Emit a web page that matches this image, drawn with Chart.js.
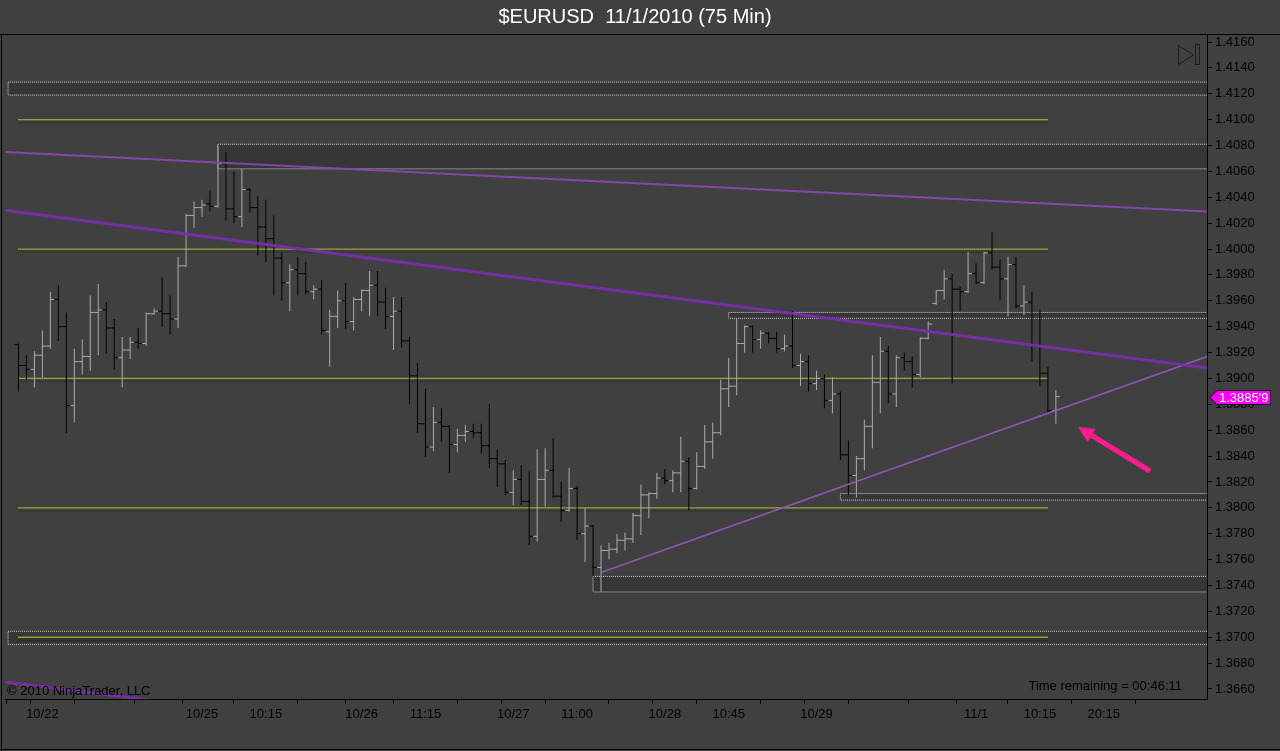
<!DOCTYPE html>
<html>
<head>
<meta charset="utf-8">
<script src="https://cdn.jsdelivr.net/npm/chart.js@4.4.0/dist/chart.umd.min.js"></script>
<style>
  html, body { margin: 0; padding: 0; background: #404040; }
  #wrap { width: 1280px; height: 751px; }
</style>
</head>
<body>
<div id="wrap"><canvas id="chart" width="1280" height="751"></canvas></div>
<script>
// 75 min bars
const openP = [
  1.3926, 1.3910, 1.3907, 1.3918, 1.3925, 1.3961, 1.3940, 1.3879, 1.3913, 1.3917,
  1.3951, 1.3953, 1.3939, 1.3916, 1.3922, 1.3928, 1.3927, 1.3950, 1.3952, 1.3950,
  1.3946, 1.3987, 1.4026, 1.4032, 1.4035, 1.4033, 1.4066, 1.4031, 1.4025, 1.4046,
  1.4032, 1.4017, 1.4008, 1.3993, 1.3974, 1.3984, 1.3981, 1.3967, 1.3969, 1.3936,
  1.3948, 1.3960, 1.3944, 1.3961, 1.3968, 1.3972, 1.3959, 1.3948, 1.3952, 1.3929,
  1.3902, 1.3865, 1.3847, 1.3866, 1.3863, 1.3849, 1.3856, 1.3859, 1.3858, 1.3848,
  1.3838, 1.3834, 1.3812, 1.3822, 1.3805, 1.3778, 1.3822, 1.3829, 1.3809, 1.3798,
  1.3815, 1.3780, 1.3786, 1.3754, 1.3767, 1.3768, 1.3775, 1.3776, 1.3794, 1.3810,
  1.3811, 1.3823, 1.3821, 1.3827, 1.3836, 1.3815, 1.3832, 1.3851, 1.3858, 1.3892,
  1.3894, 1.3927, 1.3940, 1.3930, 1.3935, 1.3931, 1.3923, 1.3925, 1.3910, 1.3913,
  1.3896, 1.3900, 1.3883, 1.3888, 1.3841, 1.3825, 1.3838, 1.3863, 1.3897, 1.3921,
  1.3888, 1.3916, 1.3913, 1.3903, 1.3931, 1.3958, 1.3968, 1.3977, 1.3969, 1.3967,
  1.3981, 1.3974, 1.3997, 1.3986, 1.3977, 1.3988, 1.3956, 1.3959, 1.3925, 1.3904,
  1.3875
];
const highP = [
  1.3927, 1.3918, 1.3921, 1.3937, 1.3967, 1.3972, 1.3951, 1.3923, 1.3930, 1.3964,
  1.3973, 1.3959, 1.3946, 1.3932, 1.3932, 1.3939, 1.3951, 1.3954, 1.3978, 1.3964,
  1.3994, 1.4027, 1.4037, 1.4038, 1.4045, 1.4080, 1.4075, 1.4060, 1.4062, 1.4047,
  1.4041, 1.4038, 1.4026, 1.3997, 1.3988, 1.3994, 1.3990, 1.3972, 1.3976, 1.3953,
  1.3968, 1.3974, 1.3963, 1.3969, 1.3983, 1.3983, 1.3970, 1.3963, 1.3963, 1.3932,
  1.3912, 1.3892, 1.3878, 1.3877, 1.3864, 1.3861, 1.3864, 1.3865, 1.3865, 1.3880,
  1.3845, 1.3837, 1.3829, 1.3833, 1.3828, 1.3845, 1.3846, 1.3854, 1.3820, 1.3831,
  1.3817, 1.3800, 1.3787, 1.3771, 1.3773, 1.3780, 1.3781, 1.3796, 1.3818, 1.3812,
  1.3827, 1.3830, 1.3829, 1.3855, 1.3839, 1.3843, 1.3864, 1.3866, 1.3899, 1.3916,
  1.3946, 1.3941, 1.3941, 1.3937, 1.3936, 1.3936, 1.3934, 1.3952, 1.3919, 1.3918,
  1.3906, 1.3903, 1.3901, 1.3890, 1.3852, 1.3840, 1.3868, 1.3918, 1.3932, 1.3925,
  1.3918, 1.3920, 1.3917, 1.3932, 1.3944, 1.3968, 1.3984, 1.3981, 1.3971, 1.3998,
  1.3989, 1.3998, 1.4013, 1.3992, 1.3994, 1.3994, 1.3972, 1.3967, 1.3953, 1.3909,
  1.3891
];
const lowP = [
  1.3890, 1.3899, 1.3893, 1.3901, 1.3923, 1.3929, 1.3858, 1.3866, 1.3903, 1.3906,
  1.3918, 1.3919, 1.3907, 1.3893, 1.3915, 1.3923, 1.3925, 1.3949, 1.3940, 1.3934,
  1.3939, 1.3986, 1.4016, 1.4025, 1.4029, 1.4032, 1.4022, 1.4020, 1.4017, 1.4028,
  1.3995, 1.3990, 1.3964, 1.3960, 1.3952, 1.3964, 1.3965, 1.3961, 1.3934, 1.3909,
  1.3939, 1.3938, 1.3937, 1.3952, 1.3948, 1.3948, 1.3938, 1.3922, 1.3924, 1.3880,
  1.3858, 1.3839, 1.3844, 1.3851, 1.3827, 1.3843, 1.3851, 1.3854, 1.3842, 1.3831,
  1.3816, 1.3810, 1.3802, 1.3802, 1.3771, 1.3774, 1.3801, 1.3808, 1.3789, 1.3797,
  1.3775, 1.3758, 1.3747, 1.3735, 1.3760, 1.3765, 1.3767, 1.3773, 1.3779, 1.3792,
  1.3807, 1.3818, 1.3812, 1.3812, 1.3798, 1.3814, 1.3830, 1.3838, 1.3856, 1.3878,
  1.3887, 1.3920, 1.3920, 1.3923, 1.3927, 1.3920, 1.3921, 1.3908, 1.3894, 1.3890,
  1.3891, 1.3877, 1.3873, 1.3837, 1.3810, 1.3808, 1.3829, 1.3846, 1.3873, 1.3881,
  1.3878, 1.3906, 1.3893, 1.3901, 1.3930, 1.3957, 1.3961, 1.3896, 1.3952, 1.3966,
  1.3973, 1.3973, 1.3984, 1.3961, 1.3948, 1.3954, 1.3949, 1.3913, 1.3894, 1.3874,
  1.3865
];
const closeP = [
  1.3910, 1.3907, 1.3918, 1.3925, 1.3961, 1.3940, 1.3879, 1.3913, 1.3917, 1.3951,
  1.3953, 1.3939, 1.3916, 1.3922, 1.3928, 1.3927, 1.3950, 1.3952, 1.3950, 1.3946,
  1.3987, 1.4026, 1.4032, 1.4034, 1.4033, 1.4066, 1.4031, 1.4025, 1.4046, 1.4032,
  1.4017, 1.4008, 1.3993, 1.3974, 1.3984, 1.3981, 1.3967, 1.3969, 1.3937, 1.3948,
  1.3960, 1.3944, 1.3961, 1.3968, 1.3972, 1.3959, 1.3948, 1.3952, 1.3929, 1.3902,
  1.3865, 1.3847, 1.3866, 1.3863, 1.3849, 1.3856, 1.3859, 1.3858, 1.3848, 1.3838,
  1.3834, 1.3812, 1.3822, 1.3805, 1.3778, 1.3822, 1.3829, 1.3809, 1.3798, 1.3815,
  1.3780, 1.3786, 1.3754, 1.3767, 1.3768, 1.3775, 1.3776, 1.3794, 1.3810, 1.3811,
  1.3823, 1.3821, 1.3827, 1.3836, 1.3815, 1.3832, 1.3851, 1.3858, 1.3892, 1.3894,
  1.3927, 1.3940, 1.3930, 1.3935, 1.3931, 1.3923, 1.3925, 1.3910, 1.3913, 1.3896,
  1.3900, 1.3883, 1.3888, 1.3841, 1.3825, 1.3838, 1.3863, 1.3897, 1.3921, 1.3888,
  1.3916, 1.3913, 1.3903, 1.3931, 1.3942, 1.3968, 1.3977, 1.3969, 1.3967, 1.3981,
  1.3974, 1.3997, 1.3986, 1.3977, 1.3988, 1.3956, 1.3959, 1.3925, 1.3904, 1.3875,
  1.3886
];

// time axis: tick positions are bar numbers
const xTickIdx = [0, 3, 11, 18, 23, 31, 39, 43, 51, 59, 62, 70, 78, 81, 89, 97, 100, 108, 115, 120, 128, 136];
const xTickLbl = ['', '10/22', '', '', '10/25', '10:15', '', '10/26', '11:15', '', '10/27', '11:00', '', '10/28', '10:45', '', '10/29', '', '', '11/1', '10:15', '20:15'];
const yTicks = [1.4160, 1.4140, 1.4120, 1.4100, 1.4080, 1.4060, 1.4040, 1.4020, 1.4000, 1.3980, 1.3960, 1.3940, 1.3920,
  1.3900, 1.3880, 1.3860, 1.3840, 1.3820, 1.3800, 1.3780, 1.3760, 1.3740, 1.3720, 1.3700, 1.3680, 1.3660];

// support / resistance zones (top, bottom, first bar)
const zoneTop = [1.4129, 1.4081, 1.3951, 1.3811, 1.3747, 1.37046];
const zoneBot = [1.4119, 1.4062, 1.39465, 1.3806, 1.3735, 1.36945];
const zoneFrom = [-1.3, 25, 89, 103, 72, -1.3];

// round number lines
const levels = [1.4100, 1.4000, 1.3900, 1.3800, 1.3700];
const levelFrom = 0, levelTo = 129;

// trend lines [bar, price]
const trendFrom = [[-1.7, 1.4075], [-1.7, 1.4030], [73, 1.3750], [-1.9, 1.36656]];
const trendTo = [[149, 1.4029], [149, 1.3908], [149, 1.3917], [30, 1.36409]];

const titleText = '$EURUSD  11/1/2010 (75 Min)';
const lastLabel = "1.3885'9";

const FONT = "'Liberation Sans', Arial, sans-serif";
const XMIN = -1.6875, XMAX = 148.9375;
const YMIN = 1.365227, YMAX = 1.416541;
const UP = '#ababab', DOWN = '#000000';
const INK = '#000000';

const bars = openP.map((_, i) => i);
const barCol = bars.map(i => closeP[i] >= openP[i] ? UP : DOWN);

const trendStyle = [
  {c: 'rgba(138,70,176,0.95)', w: 2},
  {c: 'rgba(122,44,170,0.95)', w: 3},
  {c: 'rgba(150,88,182,0.95)', w: 1.5},
  {c: 'rgba(122,44,170,0.95)', w: 3}
];

const datasets = [];
trendFrom.forEach((p, k) => {
  datasets.push({
    type: 'line',
    data: [{x: p[0], y: p[1]}, {x: trendTo[k][0], y: trendTo[k][1]}],
    borderColor: trendStyle[k].c,
    borderWidth: trendStyle[k].w,
    pointRadius: 0,
    order: 0
  });
});
datasets.push({
  type: 'bar',
  data: bars.map(i => ({x: i, y: [lowP[i], highP[i]]})),
  backgroundColor: barCol,
  barThickness: 1,
  borderWidth: 0,
  inflateAmount: 0,
  grouped: false,
  order: 1
});
datasets.push({
  type: 'scatter',
  data: bars.map(i => ({x: i - 0.25, y: openP[i]})),
  pointStyle: 'line',
  pointRadius: 2,
  pointBorderWidth: 1,
  pointBorderColor: barCol,
  order: 1
});
datasets.push({
  type: 'scatter',
  data: bars.map(i => ({x: i + 0.25, y: closeP[i]})),
  pointStyle: 'line',
  pointRadius: 2,
  pointBorderWidth: 1,
  pointBorderColor: barCol,
  order: 1
});
levels.forEach(v => {
  datasets.push({
    type: 'line',
    data: [{x: levelFrom, y: v}, {x: levelTo, y: v}],
    borderColor: '#ffff3a',
    borderWidth: 1.3,
    borderDash: [1, 1],
    pointRadius: 0,
    shadowed: true,
    order: 2
  });
});
zoneTop.forEach((t, k) => {
  const b = zoneBot[k], s = zoneFrom[k];
  datasets.push({
    type: 'line',
    data: [{x: s, y: t}, {x: XMAX + 1, y: t}, {x: XMAX + 1, y: b}, {x: s, y: b}, {x: s, y: t}],
    borderColor: '#cfcfcf',
    borderWidth: 1,
    borderDash: [1, 1],
    backgroundColor: '#363636',
    fill: 'shape',
    pointRadius: 0,
    order: 3
  });
});

// NinjaTrader draws a dark dotted shadow under the price level lines
const levelShadow = {
  id: 'levelShadow',
  beforeDatasetDraw(chart, args) {
    if (!chart.data.datasets[args.index].shadowed) return;
    const ctx = chart.ctx;
    ctx.save();
    ctx.shadowColor = 'rgba(20,20,20,0.55)';
    ctx.shadowOffsetY = 3;
    ctx.shadowBlur = 0;
  },
  afterDatasetDraw(chart, args) {
    if (!chart.data.datasets[args.index].shadowed) return;
    chart.ctx.restore();
  }
};

const overlay = {
  id: 'overlay',
  beforeDraw(chart) {
    const ctx = chart.ctx;
    ctx.save();
    ctx.fillStyle = '#404040';
    ctx.fillRect(0, 0, chart.width, chart.height);
    ctx.fillStyle = '#ffffff';
    ctx.font = '20px ' + FONT;
    ctx.textAlign = 'center';
    ctx.textBaseline = 'middle';
    ctx.fillText(titleText, 635, 17);
    ctx.restore();
  },
  afterDraw(chart) {
    const {ctx, chartArea: a, scales: {y}} = chart;
    ctx.save();
    // frame
    ctx.fillStyle = INK;
    ctx.fillRect(0, a.top - 1, chart.width, 1);
    ctx.fillRect(1, a.top, 1, chart.height - a.top);
    ctx.fillRect(0, chart.height - 2, chart.width, 1);

    // play-to-end button
    ctx.strokeStyle = '#1c1c1c';
    ctx.lineWidth = 1;
    ctx.beginPath();
    ctx.moveTo(1178.5, 45.5); ctx.lineTo(1193.5, 55); ctx.lineTo(1178.5, 64.5); ctx.closePath();
    ctx.stroke();
    ctx.strokeRect(1195.5, 44.5, 4, 20);

    // footer texts
    ctx.fillStyle = INK;
    ctx.font = '13px ' + FONT;
    ctx.textBaseline = 'middle';
    ctx.textAlign = 'left';
    ctx.fillText('\u00A9 2010 NinjaTrader, LLC', 7, 691);
    ctx.textAlign = 'right';
    ctx.fillText('Time remaining = 00:46:11', 1182, 686);

    // pink arrow
    const tail = [1150, 471], tip = [1078, 427];
    const dx = tip[0] - tail[0], dy = tip[1] - tail[1];
    const len = Math.hypot(dx, dy), ux = dx / len, uy = dy / len;
    const hl = 16, hw = 7.5;
    const bx = tip[0] - ux * hl, by = tip[1] - uy * hl;
    ctx.strokeStyle = '#ff1a8e';
    ctx.fillStyle = '#ff1a8e';
    ctx.lineWidth = 5;
    ctx.beginPath();
    ctx.moveTo(tail[0], tail[1]); ctx.lineTo(bx, by);
    ctx.stroke();
    ctx.beginPath();
    ctx.moveTo(tip[0], tip[1]);
    ctx.lineTo(bx - uy * hw, by + ux * hw);
    ctx.lineTo(bx + uy * hw, by - ux * hw);
    ctx.closePath();
    ctx.fill();

    // last price marker
    const py = Math.round(y.getPixelForValue(closeP[closeP.length - 1])) + 0.5;
    ctx.lineWidth = 1;
    ctx.fillStyle = '#ff00ff';
    ctx.strokeStyle = '#2a002a';
    ctx.beginPath();
    ctx.moveTo(1210, py);
    ctx.lineTo(1217, py - 7);
    ctx.lineTo(1270.5, py - 7);
    ctx.lineTo(1270.5, py + 7);
    ctx.lineTo(1217, py + 7);
    ctx.closePath();
    ctx.fill();
    ctx.stroke();
    ctx.fillStyle = '#ffffff';
    ctx.textAlign = 'left';
    ctx.fillText(lastLabel, 1219, py + 0.5);
    ctx.restore();
  }
};

const chart = new Chart(document.getElementById('chart'), {
  type: 'bar',
  data: {datasets: datasets},
  plugins: [levelShadow, overlay],
  options: {
    responsive: false,
    animation: false,
    events: [],
    layout: {padding: {left: 2, right: 0, top: 35, bottom: 0}},
    plugins: {
      legend: {display: false},
      tooltip: {enabled: false},
      title: {display: false}
    },
    scales: {
      x: {
        type: 'linear',
        min: XMIN,
        max: XMAX,
        offset: false,
        afterBuildTicks: s => { s.ticks = xTickIdx.map(v => ({value: v})); },
        afterFit: s => { s.height = 52; },
        grid: {drawOnChartArea: false, drawTicks: true, tickLength: 5, color: INK},
        border: {display: true, color: INK},
        ticks: {
          autoSkip: false, maxRotation: 0, color: INK, padding: 3,
          font: {family: FONT, size: 13},
          callback: (v, i) => xTickLbl[i]
        }
      },
      y: {
        position: 'right',
        min: YMIN,
        max: YMAX,
        afterBuildTicks: s => { s.ticks = yTicks.map(v => ({value: v})); },
        afterFit: s => { s.width = 73; },
        grid: {drawOnChartArea: false, drawTicks: true, tickLength: 5, color: INK},
        border: {display: true, color: INK},
        ticks: {
          color: INK, padding: 3,
          font: {family: FONT, size: 13},
          callback: v => v.toFixed(4)
        }
      }
    }
  }
});
</script>
</body>
</html>
